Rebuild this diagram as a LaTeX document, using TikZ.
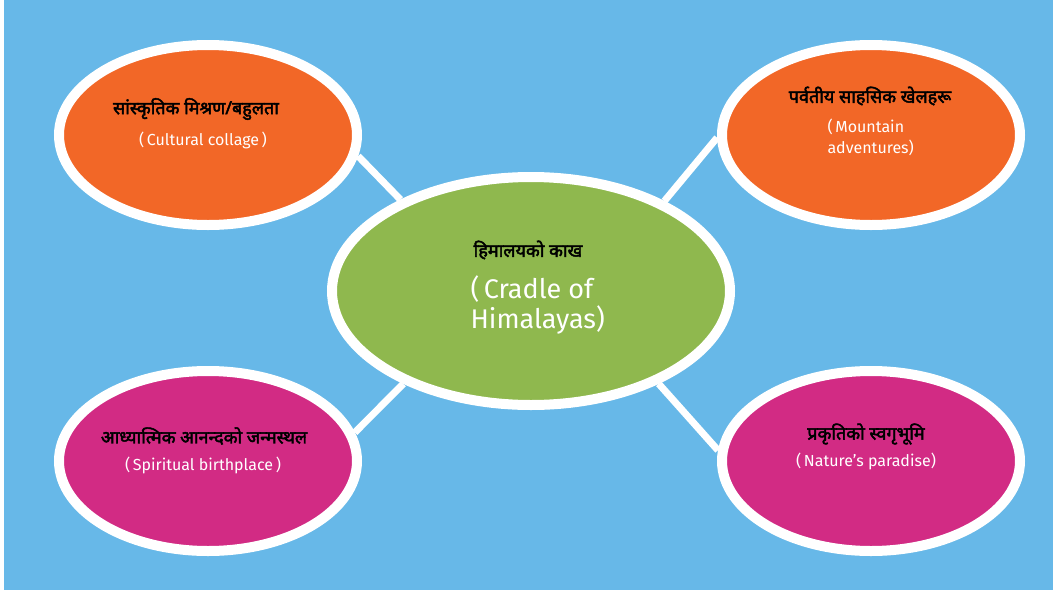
\documentclass[tikz,border=0pt]{standalone}
\usepackage{fontspec}
\setmainfont{Fira Sans}
\newfontfamily\devfont[Script=Devanagari, AutoFakeBold=2.5]{Noto Sans}
\usetikzlibrary{shapes.geometric,backgrounds,positioning}
\definecolor{skyblue}{RGB}{103,184,232}
\definecolor{bubbleorange}{RGB}{242,103,39}
\definecolor{bubblegreen}{RGB}{143,184,78}
\definecolor{bubblepink}{RGB}{210,43,132}
\tikzset{
	bubble/.style={ellipse, draw=white, line width=10pt, minimum width=298pt, minimum height=180pt, inner sep=0pt},
	hubble/.style={bubble, minimum width=398pt, minimum height=228pt},
	link/.style={draw=white, line width=7pt},
	hindi/.style={font=\devfont\bfseries\fontsize{18}{21}\selectfont, text=black},
	english/.style={font=\fontsize{16}{21}\selectfont, text=white, align=left},
}

\begin{document}
\begin{tikzpicture}[x=1pt, y=-1pt]
		%%%%% START %%%%%
		\useasboundingbox (0, 0) rectangle (1053, 592);
		
		% bubbles
		\node[hubble, fill=bubblegreen] (hub) at (531, 291) {};
		\node[bubble, fill=bubbleorange] (culture) at (208, 135) {};
		\node[bubble, fill=bubbleorange] (mountain) at (871, 135) {};
		\node[bubble, fill=bubblepink] (spirit) at (208, 461) {};
		\node[bubble, fill=bubblepink] (nature) at (871, 461) {};
		
		% background and links
		\begin{pgfonlayer}{background}
			\fill[skyblue] (4, 0) rectangle (1053, 590);
			\draw[link] (hub.145) -- (culture.-8);
			\draw[link] (hub.34) -- (mountain.181);
			\draw[link] (hub.216) -- (spirit.11);
			\draw[link] (hub.-36) -- (nature.176);
		\end{pgfonlayer}
		
		% texts
		\node[hindi] (hubhi) at (528, 250) {हिमालयको काख};
		\node[english, font=\fontsize{27}{30}\selectfont, anchor=north west] (huben) at (467, 272) {(\,Cradle of\\Himalayas)};
		
		\node[hindi] (culturehi) at (196, 109) {सांस्कृतिक मिश्रण/बहुलता};
		\node[english] (cultureen) at (203, 140) {(\,Cultural collage\,)};
		
		\node[hindi] (mountainhi) at (870, 96) {पर्वतीय साहसिक खेलहरू};
		\node[english, anchor=north west] (mountainen) at (824, 115) {(\,Mountain\\ adventures)};
		
		\node[hindi] (spirithi) at (204, 436) {आध्यात्मिक आनन्दको जन्मस्थल};
		\node[english] (spiriten) at (203, 465) {(\,Spiritual birthplace\,)};
		
		\node[hindi] (naturehi) at (866, 434) {प्रकृतिको स्वगृभूमि};
		\node[english] (natureen) at (866, 461) {(\,Nature’s paradise)};
		
		%%%%% END %%%%%
\end{tikzpicture}
\end{document}
